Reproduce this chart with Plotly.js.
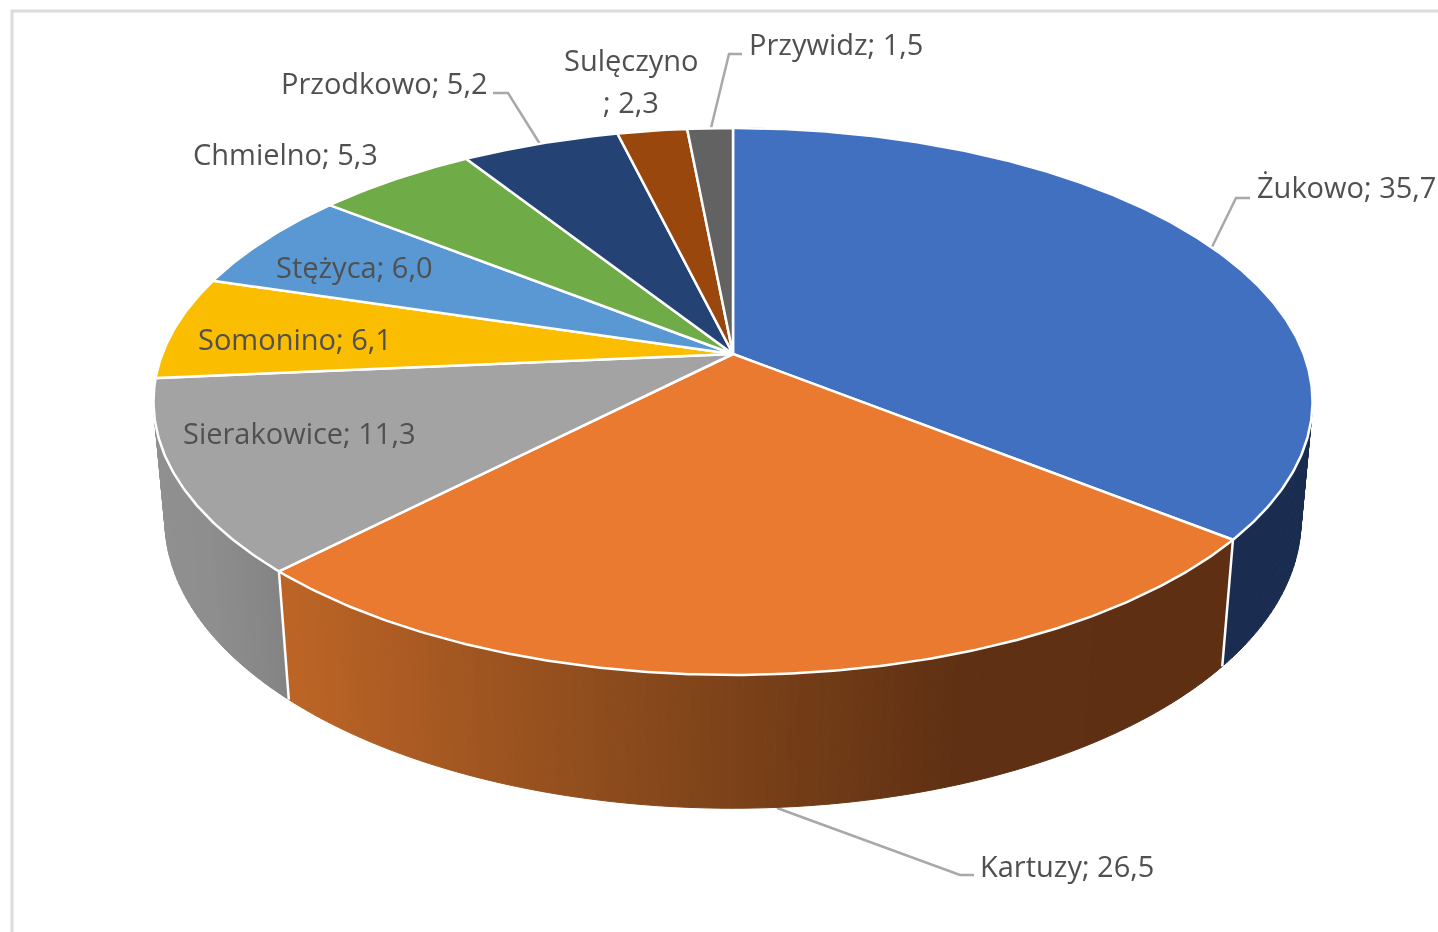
<!DOCTYPE html>
<html>
<head>
<meta charset="utf-8">
<script src="https://cdn.plot.ly/plotly-3.0.1.min.js"></script>
<style>html,body{margin:0;padding:0;background:#fff;overflow:hidden}#chart{width:1438px;height:932px;filter:blur(0.5px)}</style>
</head>
<body>
<div id="chart"></div>
<script>
// ---- data ----
const categories = ["Żukowo","Kartuzy","Sierakowice","Somonino","Stężyca","Chmielno","Przodkowo","Sulęczyno","Przywidz"];
const values = [35.7,26.5,11.3,6.1,6.0,5.3,5.2,2.3,1.5];

// ---- styles ----
const topColors = ["#4270c0","#e97a2f","#a3a3a3","#fbbd00","#5a98d3","#6fab46","#244274","#9a470d","#626262"];
const wallStops = {
  0: [[0,"#1a2d50"],[1438,"#1a2d50"]],
  1: [[290,"#bc6426"],[600,"#8e4c1d"],[733,"#7c4219"],[960,"#5f3013"],[1222,"#5e2f12"]],
  2: [[150,"#909090"],[205,"#8e8e8e"],[285,"#838383"]]
};
const labelColor = "#505050";
const labelFont = "Open Sans, Noto Sans, sans-serif";
const labelSize = 29;
const leaderColor = "#a8a8a8";

// label layout, same order as categories: left edge or centre, and text line centres
const labelPlace = [
  {x:1256,y:[186],a:"left"},{x:979,y:[865],a:"left"},{x:182,y:[432],a:"left"},
  {x:197,y:[338],a:"left"},{x:275,y:[266],a:"left"},{x:192,y:[153],a:"left"},
  {x:280,y:[82],a:"left"},{x:631,y:[59,101],a:"center"},{x:748,y:[43],a:"left"}
];
const leaderPaths = [
  "M1212,247 L1236,198 L1250,198",
  "M777,808 L960,875 L974,875",
  "M493,93 L508,93 L540,144",
  "M711,128 L729,54 L742,54"
];

// ---- perspective projection of the pie disc ----
const P = {cx:733, cy:354, A:570.7, B:265.2, C:119, k:0.1737, m:0.0195};
function project(frac, z){
  const t = 2*Math.PI*frac, X = Math.sin(t), Y = Math.cos(t);
  const w = 1 + P.k*Y + P.m*z;
  return [P.cx + P.A*X/w, P.cy - (P.B*Y - P.C*z)/w];
}
function hex(c){return [1,3,5].map(i=>parseInt(c.substr(i,2),16));}
function stopColor(stops,x){
  if(x<=stops[0][0]) return stops[0][1];
  for(let i=1;i<stops.length;i++){
    if(x<=stops[i][0]){
      const a=hex(stops[i-1][1]),b=hex(stops[i][1]),f=(x-stops[i-1][0])/(stops[i][0]-stops[i-1][0]);
      return "rgb("+a.map((v,j)=>Math.round(v+(b[j]-v)*f)).join(",")+")";
    }
  }
  return stops[stops.length-1][1];
}

const total = values.reduce((a,b)=>a+b,0);
let acc = 0;
const ranges = values.map(v=>{const r=[acc/total,(acc+v)/total];acc+=v;return r;});

const traces = [];
// side walls, far to near
const strips = [];
ranges.forEach((r,i)=>{
  if(!wallStops[i]) return;
  const n = Math.max(2,Math.round((r[1]-r[0])*400));
  for(let j=0;j<n;j++){
    const f0=r[0]+(r[1]-r[0])*j/n, f1=r[0]+(r[1]-r[0])*(j+1)/n;
    const a=project(f0,0),b=project(f1,0),c=project(f1,1),d=project(f0,1);
    strips.push({i,x:[a[0],b[0],c[0],d[0],a[0]],y:[a[1],b[1],c[1],d[1],a[1]],
      col:stopColor(wallStops[i],(a[0]+b[0])/2), depth:Math.cos(2*Math.PI*(f0+f1)/2)});
  }
});
strips.sort((p,q)=>q.depth-p.depth).forEach(s=>{
  traces.push({type:"scatter",mode:"lines",x:s.x,y:s.y,fill:"toself",fillcolor:s.col,
    line:{color:s.col,width:1},hoverinfo:"skip",showlegend:false});
});
// white seams between the visible walls
[1,2].forEach(i=>{
  const f=ranges[i][0],a=project(f,0),b=project(f,1);
  traces.push({type:"scatter",mode:"lines",x:[a[0],b[0]],y:[a[1],b[1]],
    line:{color:"#ffffff",width:2.5},hoverinfo:"skip",showlegend:false});
});
// top face of each slice
ranges.forEach((r,i)=>{
  const xs=[P.cx],ys=[P.cy],n=Math.max(6,Math.round((r[1]-r[0])*720));
  for(let j=0;j<=n;j++){const p=project(r[0]+(r[1]-r[0])*j/n,0);xs.push(p[0]);ys.push(p[1]);}
  xs.push(P.cx);ys.push(P.cy);
  traces.push({type:"scatter",mode:"lines",name:categories[i],x:xs,y:ys,fill:"toself",
    fillcolor:topColors[i],line:{color:"#ffffff",width:2.5},
    hoverinfo:"text",text:categories[i]+"; "+String(values[i].toFixed(1)).replace(".",","),
    showlegend:false});
});

// labels
const annotations=[];
categories.forEach((name,i)=>{
  const val=values[i].toFixed(1).replace(".",",");
  const lines = labelPlace[i].y.length>1 ? [name,"; "+val] : [name+"; "+val];
  lines.forEach((t,l)=>annotations.push({xref:"x",yref:"y",x:labelPlace[i].x,y:labelPlace[i].y[l],
    text:t,showarrow:false,xanchor:labelPlace[i].a,yanchor:"middle",borderpad:0,
    font:{family:labelFont,size:labelSize,color:labelColor}}));
});

const shapes = leaderPaths.map(p=>({type:"path",xref:"x",yref:"y",path:p,line:{color:leaderColor,width:2.5},layer:"below"}));
// chart-area frame (top and left edges visible)
shapes.push({type:"path",xref:"x",yref:"y",path:"M12,932 L12,11 L1438,11",line:{color:"#dcdcdc",width:3},layer:"below"});

Plotly.newPlot("chart",traces,{
  width:1438,height:932,margin:{l:0,r:0,t:0,b:0},
  paper_bgcolor:"#ffffff",plot_bgcolor:"#ffffff",showlegend:false,
  xaxis:{range:[0,1438],visible:false,fixedrange:true},
  yaxis:{range:[932,0],visible:false,fixedrange:true},
  annotations,shapes
},{displayModeBar:false});
</script>
</body>
</html>
